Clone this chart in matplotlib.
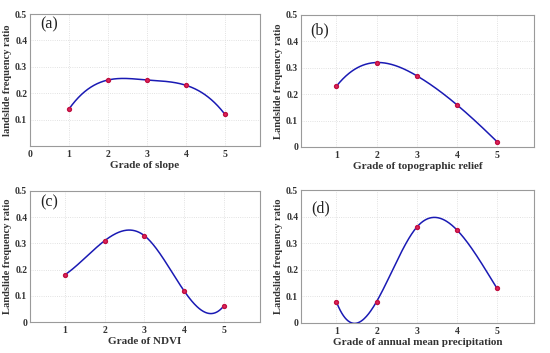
import numpy as np
import matplotlib
matplotlib.use("Agg")
import matplotlib.pyplot as plt

# grades on the x axis
grades = [1, 2, 3, 4, 5]

# landslide frequency ratio for each factor
slope = [0.14, 0.25, 0.25, 0.23, 0.12]
relief = [0.23, 0.32, 0.27, 0.16, 0.02]
ndvi = [0.18, 0.31, 0.33, 0.12, 0.06]
precip = [0.08, 0.08, 0.36, 0.35, 0.13]

xlabels = ["Grade of slope", "Grade of topographic relief",
           "Grade of NDVI", "Grade of annual mean precipitation"]
ylabels = ["landslide frequency ratio", "Landslide frequency ratio",
           "Landslide frequency ratio", "Landslide frequency ratio"]
tags = ["(a)", "(b)", "(c)", "(d)"]


# not-a-knot cubic spline (like matlab's spline) drawn through the points
def spline(x, y, xs):
    x = np.asarray(x, float)
    y = np.asarray(y, float)
    n = len(x)
    h = np.diff(x)
    A = np.zeros((n, n))
    r = np.zeros(n)
    for i in range(1, n - 1):
        A[i, i - 1] = h[i - 1]
        A[i, i] = 2 * (h[i - 1] + h[i])
        A[i, i + 1] = h[i]
        r[i] = 6 * ((y[i + 1] - y[i]) / h[i] - (y[i] - y[i - 1]) / h[i - 1])
    A[0, 0] = h[1]
    A[0, 1] = -(h[0] + h[1])
    A[0, 2] = h[0]
    A[-1, -3] = h[-1]
    A[-1, -2] = -(h[-2] + h[-1])
    A[-1, -1] = h[-2]
    M = np.linalg.solve(A, r)
    idx = np.clip(np.searchsorted(x, xs) - 1, 0, n - 2)
    t = xs - x[idx]
    hi = h[idx]
    b = (y[idx + 1] - y[idx]) / hi - hi * (2 * M[idx] + M[idx + 1]) / 6
    return y[idx] + b * t + M[idx] / 2 * t**2 + (M[idx + 1] - M[idx]) / (6 * hi) * t**3


plt.rcParams['font.family'] = ['Liberation Serif', 'DejaVu Serif']

fig = plt.figure(figsize=(5.5, 3.53), dpi=100)
W, H = 550.0, 353.0
# axes boxes in pixels: left, top, right, bottom
boxes = [(30, 14, 260, 146), (301, 15, 534, 147),
         (30, 191, 260, 322), (301, 190, 534, 323)]
tagpos = [(0.045, 0.92), (0.04, 0.88), (0.045, 0.91), (0.045, 0.86)]
series = [slope, relief, ndvi, precip]

for k in range(4):
    l, t, r, b = boxes[k]
    ax = fig.add_axes([l / W, 1 - b / H, (r - l) / W, (b - t) / H])
    xs = np.linspace(1, 5, 300)
    ax.plot(xs, spline(grades, series[k], xs), color="#1a1ab4", lw=1.1, zorder=3)
    ax.plot(grades, series[k], "o", ms=2.8, color="#e0245e", mec="#c01040", zorder=4)
    ax.set_ylim(0, 0.5)
    if k == 0:
        ax.set_xlim(0, 5.9)
        ax.set_xticks([0, 1, 2, 3, 4, 5])
        ax.set_yticks([0.1, 0.2, 0.3, 0.4, 0.5])
        ax.set_yticklabels(["0.1", "0.2", "0.3", "0.4", "0.5"])
    else:
        ax.set_xlim(0.12, 5.92)
        ax.set_xticks([1, 2, 3, 4, 5])
        ax.set_yticks([0, 0.1, 0.2, 0.3, 0.4, 0.5])
        ax.set_yticklabels(["0", "0.1", "0.2", "0.3", "0.4", "0.5"])
    ax.grid(True, color="#d8d8d8", lw=0.6, ls=":")
    for s in ax.spines.values():
        s.set_color("#9a9a9a")
        s.set_linewidth(0.8)
    ax.tick_params(length=0, labelsize=7, pad=3)
    ax.tick_params(axis="y", pad=2)
    for lab in ax.get_xticklabels() + ax.get_yticklabels():
        lab.set_fontweight("bold")
        lab.set_color("#333333")
    ax.set_xlabel(xlabels[k], fontsize=8, fontweight="bold", color="#333333", labelpad=1)
    ax.set_ylabel(ylabels[k], fontsize=7.6, fontweight="bold", color="#333333", labelpad=2)
    ax.text(tagpos[k][0], tagpos[k][1], tags[k], transform=ax.transAxes, fontsize=11.5,
            color="#222222", va="center", ha="left")

fig.savefig("out.png", dpi=100)
